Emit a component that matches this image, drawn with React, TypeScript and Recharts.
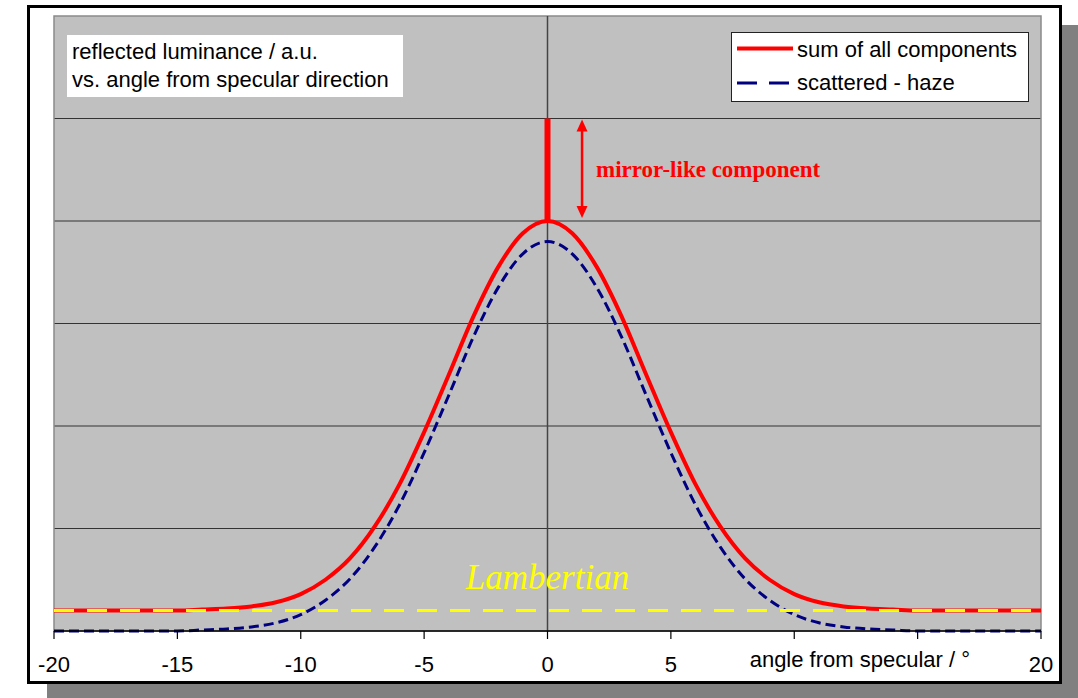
import React from "react";
import {
  LineChart,
  Line,
  XAxis,
  YAxis,
  CartesianGrid,
  ReferenceLine,
  ReferenceArea,
  Legend
} from "recharts";

// angle from specular direction, degrees
const ANGLES = [
  -20, -19, -18, -17, -16, -15, -14, -13, -12, -11, -10, -9, -8, -7, -6, -5, -4,
  -3, -2, -1, 0, 1, 2, 3, 4, 5, 6, 7, 8, 9, 10, 11, 12, 13, 14, 15, 16, 17, 18,
  19, 20
];

// sum of all components (haze + lambertian), a.u.
const SUM = [
  0.2, 0.2, 0.2, 0.2, 0.2, 0.2, 0.21, 0.22, 0.24, 0.28, 0.36, 0.5, 0.71, 1.02,
  1.43, 1.94, 2.5, 3.07, 3.55, 3.88, 4.0, 3.88, 3.55, 3.07, 2.5, 1.94, 1.43,
  1.02, 0.71, 0.5, 0.36, 0.28, 0.24, 0.22, 0.21, 0.2, 0.2, 0.2, 0.2, 0.2, 0.2
];

// scattered - haze, a.u.
const HAZE = [
  0, 0, 0, 0, 0, 0, 0.01, 0.02, 0.04, 0.08, 0.16, 0.3, 0.51, 0.82, 1.23, 1.74,
  2.3, 2.87, 3.35, 3.68, 3.8, 3.68, 3.35, 2.87, 2.3, 1.74, 1.23, 0.82, 0.51,
  0.3, 0.16, 0.08, 0.04, 0.02, 0.01, 0, 0, 0, 0, 0, 0
];

const LAMBERTIAN = 0.2;
const MIRROR_TOP = 5.0;
const ARROW_ANGLE = 1.4;

const X_TICKS = [-20, -15, -10, -5, 0, 5, 10, 15, 20];
const HIDDEN_TICKS = [10, 15];
const Y_TICKS = [0, 1, 2, 3, 4, 5, 6];
const GRID_LEVELS = [1, 2, 3, 4, 5];
const LEGEND_KEYS = ["sum", "haze"];

const rows = ANGLES.map((angle, i) => ({
  angle,
  sum: SUM[i],
  haze: HAZE[i],
  lambert: LAMBERTIAN
}));

const mirrorBase = SUM[ANGLES.indexOf(0)];

const SANS = "'Liberation Sans', Arial, sans-serif";
const SERIF = "'Liberation Serif', 'Times New Roman', serif";

const MirrorArrow = (props: any) => {
  const { x1, y1, y2 } = props;
  const top = Math.min(y1, y2) + 1;
  const bottom = Math.max(y1, y2) - 3;
  const head = 12;
  const half = 5.5;
  return (
    <g>
      <line
        x1={x1}
        y1={top + head - 1}
        x2={x1}
        y2={bottom - head + 1}
        stroke="#ff0000"
        strokeWidth={2.5}
      />
      <polygon
        points={`${x1},${top} ${x1 - half},${top + head} ${x1 + half},${top + head}`}
        fill="#ff0000"
      />
      <polygon
        points={`${x1},${bottom} ${x1 - half},${bottom - head} ${x1 + half},${bottom - head}`}
        fill="#ff0000"
      />
      <text
        x={x1 + 14}
        y={(top + bottom) / 2 + 8}
        fill="#ff0000"
        fontFamily={SERIF}
        fontWeight="bold"
        fontSize={23}
      >
        mirror-like component
      </text>
    </g>
  );
};

const LegendBox = ({ payload }: any) => {
  const entries = (payload || [])
    .filter((e: any) => LEGEND_KEYS.includes(e.dataKey))
    .sort(
      (a: any, b: any) =>
        LEGEND_KEYS.indexOf(a.dataKey) - LEGEND_KEYS.indexOf(b.dataKey)
    );
  return (
    <div
      style={{
        boxSizing: "border-box",
        width: 298,
        height: 70,
        background: "#ffffff",
        border: "1px solid #222",
        fontFamily: SANS,
        fontSize: 22,
        color: "#000"
      }}
    >
      {entries.map((entry: any) => {
        const solid = entry.dataKey === "sum";
        return (
          <div
            key={entry.dataKey}
            style={{ height: 33, lineHeight: "33px", whiteSpace: "nowrap" }}
          >
            <svg
              width={58}
              height={33}
              style={{ verticalAlign: "top", marginLeft: 5 }}
            >
              <line
                x1={0}
                x2={56}
                y1={solid ? 15.5 : 17}
                y2={solid ? 15.5 : 17}
                stroke={entry.color}
                strokeWidth={solid ? 4 : 3}
                strokeDasharray={solid ? undefined : "20 12"}
              />
            </svg>
            <span style={{ marginLeft: 2 }}>{entry.value}</span>
          </div>
        );
      })}
    </div>
  );
};

export default function App() {
  return (
    <div
      style={{
        position: "absolute",
        left: 0,
        top: 0,
        width: 1078,
        height: 698,
        overflow: "hidden",
        background: "#ffffff"
      }}
    >
      {/* framed panel with drop shadow */}
      <div
        style={{
          position: "absolute",
          left: 27,
          top: 5,
          width: 1035,
          height: 679,
          boxSizing: "border-box",
          border: "3px solid #000",
          background: "#ffffff",
          boxShadow: "20px 20px 0 #808080"
        }}
      />
      <div style={{ position: "absolute", left: 0, top: 0 }}>
        <LineChart
          width={1078}
          height={698}
          data={rows}
          margin={{ top: 16, right: 37, bottom: 27, left: 54 }}
        >
          <CartesianGrid
            vertical={false}
            horizontalValues={GRID_LEVELS}
            stroke="#333"
            fill="#c0c0c0"
            fillOpacity={1}
          />
          <ReferenceArea
            x1={-20}
            x2={20}
            y1={0}
            y2={6}
            fill="none"
            stroke="#8a8a8a"
            strokeWidth={1.5}
          />
          <XAxis
            dataKey="angle"
            type="number"
            domain={[-20, 20]}
            ticks={X_TICKS}
            height={40}
            tickFormatter={(v: number) =>
              HIDDEN_TICKS.includes(v) ? "" : String(v)
            }
            tick={{ fontSize: 22, fill: "#000", fontFamily: SANS }}
            tickSize={8}
            tickMargin={17}
            axisLine={{ stroke: "#000", strokeWidth: 1.5 }}
            tickLine={{ stroke: "#000", strokeWidth: 1.2 }}
            label={(p: any) => {
              const vb = p.viewBox || {};
              return (
                <text
                  x={vb.x + vb.width - 71}
                  y={vb.y + 36}
                  textAnchor="end"
                  fontFamily={SANS}
                  fontSize={22}
                  fill="#000"
                >
                  angle from specular / °
                </text>
              );
            }}
          />
          <YAxis type="number" domain={[0, 6]} ticks={Y_TICKS} hide />
          <ReferenceLine x={0} stroke="#444" strokeWidth={1.5} />
          <Line
            type="monotone"
            dataKey="sum"
            name="sum of all components"
            stroke="#ff0000"
            strokeWidth={4}
            dot={false}
            activeDot={false}
            isAnimationActive={false}
          />
          <Line
            type="monotone"
            dataKey="haze"
            name="scattered - haze"
            stroke="#000080"
            strokeWidth={3}
            strokeDasharray="10 5"
            dot={false}
            activeDot={false}
            isAnimationActive={false}
          />
          <Line
            type="linear"
            dataKey="lambert"
            name="Lambertian"
            legendType="none"
            stroke="#ffff00"
            strokeWidth={3}
            strokeDasharray="20 13"
            dot={false}
            activeDot={false}
            isAnimationActive={false}
          />
          <ReferenceLine
            segment={[
              { x: 0, y: mirrorBase },
              { x: 0, y: MIRROR_TOP }
            ]}
            stroke="#ff0000"
            strokeWidth={6}
          />
          <ReferenceLine
            segment={[
              { x: ARROW_ANGLE, y: mirrorBase },
              { x: ARROW_ANGLE, y: MIRROR_TOP }
            ]}
            shape={MirrorArrow}
          />
          <ReferenceLine
            y={LAMBERTIAN}
            stroke="none"
            label={(p: any) => {
              const vb = p.viewBox || {};
              return (
                <text
                  x={vb.x + vb.width / 2}
                  y={vb.y - 22}
                  textAnchor="middle"
                  fontFamily={SERIF}
                  fontStyle="italic"
                  fontSize={35}
                  fill="#ffff00"
                >
                  Lambertian
                </text>
              );
            }}
          />
          <Legend
            layout="horizontal"
            verticalAlign="middle"
            align="center"
            content={<LegendBox />}
            wrapperStyle={{ left: 731, top: 32, width: 298, height: 70 }}
          />
        </LineChart>
      </div>
      {/* plot heading box */}
      <div
        style={{
          position: "absolute",
          left: 67,
          top: 35,
          width: 336,
          height: 62,
          boxSizing: "border-box",
          background: "#ffffff",
          paddingLeft: 5,
          paddingTop: 2.5,
          fontFamily: SANS,
          fontSize: 22,
          lineHeight: "28.4px",
          color: "#000",
          whiteSpace: "nowrap"
        }}
      >
        reflected luminance / a.u.
        <br />
        vs. angle from specular direction
      </div>
    </div>
  );
}
